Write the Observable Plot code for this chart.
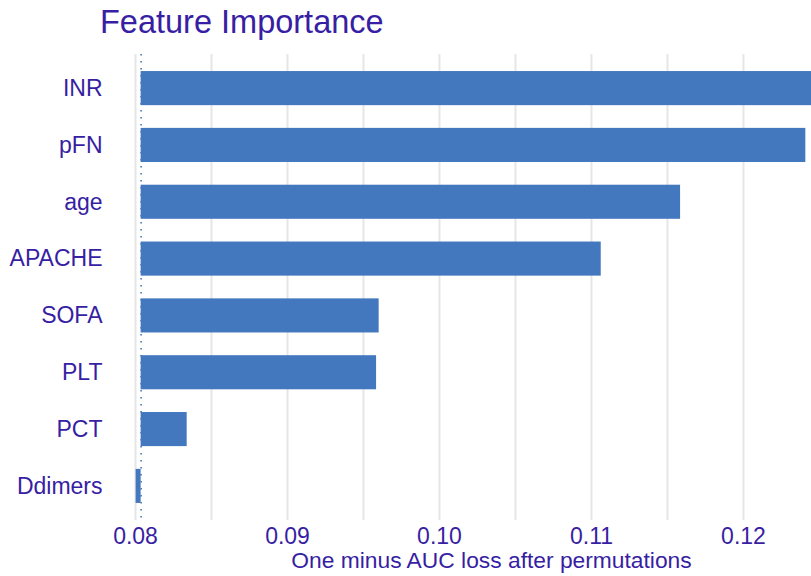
<!DOCTYPE html>
<html>
<head>
<meta charset="utf-8">
<script src="https://cdn.jsdelivr.net/npm/d3@7"></script>
<script src="https://cdn.jsdelivr.net/npm/@observablehq/plot@0.6"></script>
<style>
  html, body { margin: 0; padding: 0; background: #fff; }
  body { width: 811px; height: 576px; overflow: hidden; font-family: "Liberation Sans", Arial, Helvetica, sans-serif; }
  #title { height: 38px; padding: 7px 0 0 100px; margin: 0; font-size: 32.5px; line-height: 31px; color: #371ea3; font-weight: normal; white-space: nowrap; }
</style>
</head>
<body>
<div id="title">Feature Importance</div>
<div id="chart"></div>
<script>
// Data
const variables = ["INR", "pFN", "age", "APACHE", "SOFA", "PLT", "PCT", "Ddimers"];
const dropoutLoss = [0.1262, 0.1241, 0.11586, 0.11064, 0.09603, 0.09586, 0.0834, 0.08004];
const fullModelLoss = 0.08037;
const xTicks = [0.08, 0.09, 0.10, 0.11, 0.12];
const xTickLabels = ["0.08", "0.09", "0.10", "0.11", "0.12"];
const gridValues = [0.08, 0.085, 0.09, 0.095, 0.10, 0.105, 0.11, 0.115, 0.12];
const xLabel = "One minus AUC loss after permutations";
const xDomain = [0.079013, 0.124474];

const textColor = "#371ea3";
const barColor = "#4378bf";

const rows = variables.map((v, i) => ({variable: v, loss: dropoutLoss[i]}));

const chart = Plot.plot({
  width: 811,
  height: 531,
  marginTop: 9,
  marginBottom: 56,
  marginLeft: 120,
  marginRight: 0,
  style: {fontFamily: "'Liberation Sans', Arial, Helvetica, sans-serif", fontSize: "23px", color: textColor, background: "white"},
  x: {domain: xDomain},
  y: {domain: variables, paddingInner: 0.4, paddingOuter: 0.3, round: false},
  marks: [
    Plot.ruleX(gridValues, {stroke: "#e6e6e6", strokeWidth: 2}),
    Plot.barX(rows, {y: "variable", x1: () => fullModelLoss, x2: "loss", fill: barColor}),
    Plot.ruleX([fullModelLoss], {stroke: barColor, strokeWidth: 1.6, strokeDasharray: "1.6,5.4"}),
    Plot.axisX({ticks: xTicks, tickFormat: (d) => xTickLabels[xTicks.indexOf(d)], tickSize: 0, tickPadding: 7, label: null, fill: textColor, fontSize: 23}),
    Plot.axisY({tickSize: 0, tickPadding: 18, label: null, fill: textColor, fontSize: 23}),
    Plot.text([xLabel], {frameAnchor: "bottom", text: d => d, lineAnchor: "top", dy: 31, dx: 25.5, fill: textColor, fontSize: 22.8})
  ]
});
document.getElementById("chart").appendChild(chart);
</script>
</body>
</html>
